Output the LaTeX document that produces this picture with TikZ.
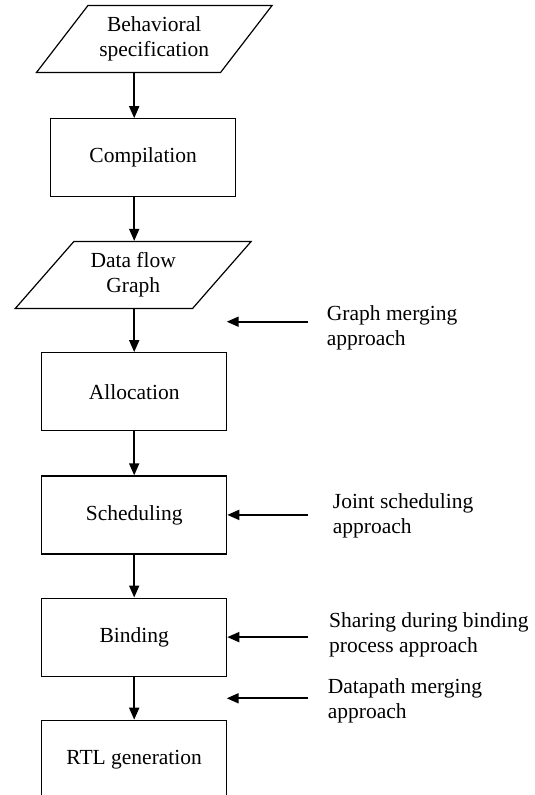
\documentclass[tikz,border=0pt]{standalone}
\usepackage{fontspec}
\setmainfont{Liberation Serif}
\usetikzlibrary{positioning, shapes.geometric, arrows.meta}
\tikzset{
    x=1pt, y=1pt, % one unit is one pixel of the page
    node distance=44pt, % gap between two steps of the flow
    every node/.style={font=\fontsize{21.5}{25}\selectfont},
    process/.style={draw, line width=1.2pt, minimum width=185pt, minimum height=78pt, align=center}, % a processing step
    io/.style={trapezium, trapezium left angle=48.5, trapezium right angle=131.5, trapezium stretches=true,
        draw, line width=1.2pt, minimum width=236pt, minimum height=67pt, align=center}, % input or output data
    flow/.style={-{Triangle[length=12pt,width=10pt]}, line width=1.8pt}, % arrows of the flow
    note/.style={anchor=west, inner sep=0pt, align=left}, % text of an approach
}
\begin{document}
\begin{tikzpicture}
\useasboundingbox (0,0) rectangle (535,-795);
\node[process]                              (alloc) at (134.2,-391.7) {Allocation};
\node[io, above=43pt of alloc, xshift=-1pt]  (dfg)   {Data flow\\Graph};
\node[process, above=43.5pt of dfg, xshift=10pt] (comp) {Compilation};
\node[io, above=45pt of comp, xshift=11pt]   (bs)    {Behavioral\\specification};
\node[process, below=of alloc]              (sched) {Scheduling};
\node[process, below=43pt of sched]         (bind)  {Binding};
\node[process, below=43pt of bind]          (rtl)   {RTL generation};

\node[note] (gm) at (326.7,-327.6) {Graph merging\\approach};
\node[note] (js) at (332.7,-515.6) {Joint scheduling\\approach};
\node[note] (sb) at (329,-635)     {Sharing during binding\\process approach};
\node[note] (dm) at (327.7,-700.6) {Datapath merging\\approach};

\coordinate (gmtail) at (308,-321.7);
\coordinate (gmtip)  at (226.7,-321.7);
\coordinate (dmtail) at (308,-698.3);
\coordinate (dmtip)  at (226.7,-698.3);

\draw[flow] (bs.south -| alloc.north)   -- (comp.north -| alloc.north);
\draw[flow] (comp.south -| alloc.north) -- (dfg.north -| alloc.north);
\draw[flow] (dfg.south -| alloc.north)  -- (alloc.north);
\draw[flow] (alloc.south) -- (sched.north);
\draw[flow] (sched.south) -- (bind.north);
\draw[flow] (bind.south)  -- (rtl.north);

\draw[flow] (gmtail) -- (gmtip);
\draw[flow] (sched.east -| gmtail) -- (sched.east);
\draw[flow] (bind.east -| gmtail)  -- (bind.east);
\draw[flow] (dmtail) -- (dmtip);
\end{tikzpicture}
\end{document}
